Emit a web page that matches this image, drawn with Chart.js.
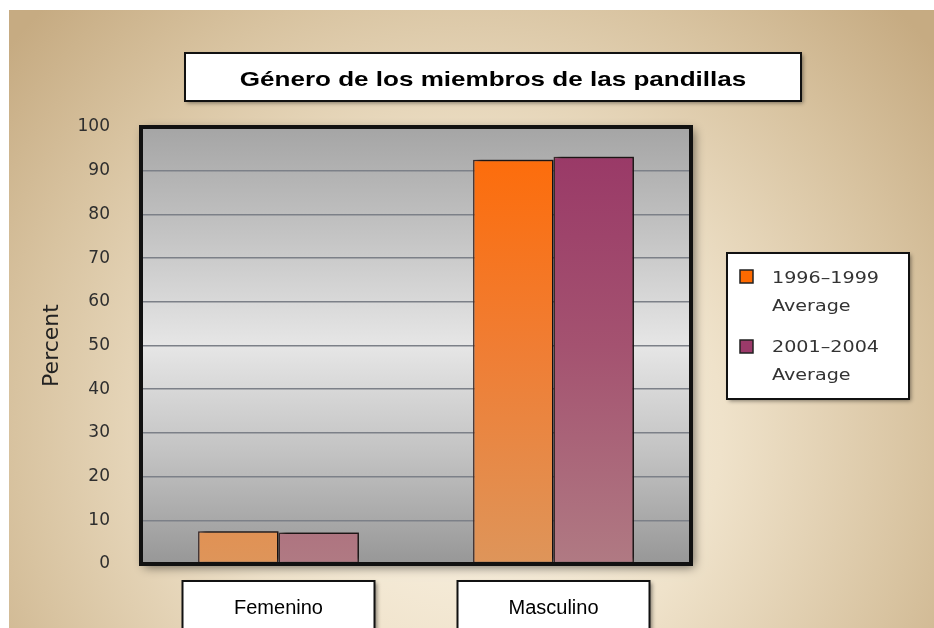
<!DOCTYPE html>
<html>
<head>
<meta charset="utf-8">
<script src="https://cdn.jsdelivr.net/npm/chart.js@4"></script>
<style>
  html, body { margin: 0; padding: 0; background: #ffffff; }
  #wrap { width: 934px; height: 628px; position: relative; }
  canvas { display: block; }
</style>
</head>
<body>
<div id="wrap"><canvas id="c" width="934" height="628"></canvas></div>
<script>
// ---- data ----
const categories = ['Femenino', 'Masculino'];
const seriesLabels = ['1996–1999 Average', '2001–2004 Average'];
const legendLines = [['1996–1999', 'Average'], ['2001–2004', 'Average']];
const values1996to1999 = [7.5, 92.5];
const values2001to2004 = [7.2, 93.2];
const yMin = 0;
const yMax = 100;
const yStep = 10;
const chartTitle = 'Género de los miembros de las pandillas';
const yAxisTitle = 'Percent';

// ---- styles ----
const swatch = ['#ff6a00', '#9c3a6a'];
const gradStops = [
  ['#ff6a05', '#f07d33', '#de955a'],
  ['#983666', '#a45270', '#b07a83']
];

function barGradient(i) {
  return function (c) {
    const chart = c.chart;
    const a = chart.chartArea;
    if (!a) return swatch[i];
    const g = chart.ctx.createLinearGradient(0, a.top, 0, a.bottom);
    g.addColorStop(0, gradStops[i][0]);
    g.addColorStop(0.5, gradStops[i][1]);
    g.addColorStop(1, gradStops[i][2]);
    return g;
  };
}

function boxWithShadow(ctx, x, y, w, h, lw) {
  ctx.save();
  ctx.shadowColor = 'rgba(0,0,0,0.45)';
  ctx.shadowBlur = 4;
  ctx.shadowOffsetX = 2;
  ctx.shadowOffsetY = 2;
  ctx.fillStyle = '#ffffff';
  ctx.fillRect(x, y, w, h);
  ctx.restore();
  ctx.save();
  ctx.lineWidth = lw;
  ctx.strokeStyle = '#111111';
  ctx.strokeRect(x, y, w, h);
  ctx.restore();
}

const decor = {
  id: 'decor',
  beforeDraw(chart) {
    const ctx = chart.ctx;
    const a = chart.chartArea;
    const W = chart.width, H = chart.height;
    // page background
    ctx.save();
    ctx.fillStyle = '#ffffff';
    ctx.fillRect(0, 0, W, H);
    const rg = ctx.createRadialGradient(470, 430, 20, 470, 430, 600);
    rg.addColorStop(0, '#fbf4e6');
    rg.addColorStop(0.4, '#efe2ca');
    rg.addColorStop(0.75, '#d8c3a0');
    rg.addColorStop(1, '#c6ab82');
    ctx.fillStyle = rg;
    ctx.fillRect(9, 10, W - 9, H - 10);
    ctx.restore();

    // plot background with soft shadow
    ctx.save();
    ctx.shadowColor = 'rgba(0,0,0,0.55)';
    ctx.shadowBlur = 10;
    ctx.shadowOffsetX = 3;
    ctx.shadowOffsetY = 3;
    const pg = ctx.createLinearGradient(0, a.top, 0, a.bottom);
    pg.addColorStop(0, '#a5a5a5');
    pg.addColorStop(0.25, '#c4c4c4');
    pg.addColorStop(0.5, '#e6e6e6');
    pg.addColorStop(0.75, '#c2c2c2');
    pg.addColorStop(1, '#979797');
    ctx.fillStyle = pg;
    ctx.fillRect(a.left, a.top, a.right - a.left, a.bottom - a.top);
    ctx.restore();

    // title box + text
    boxWithShadow(ctx, 185, 53, 616, 48, 2);
    ctx.save();
    ctx.translate(493, 86);
    ctx.scale(1.24, 1);
    ctx.font = 'bold 21px "Liberation Sans", Arial, sans-serif';
    ctx.fillStyle = '#000000';
    ctx.textAlign = 'center';
    ctx.textBaseline = 'alphabetic';
    ctx.fillText(chartTitle, 0, 0);
    ctx.restore();

    // legend box
    boxWithShadow(ctx, 727, 253, 182, 146, 2);
    chart.data.datasets.forEach((ds, i) => {
      const sy = 270 + i * 70;
      ctx.save();
      ctx.fillStyle = swatch[i];
      ctx.fillRect(740, sy, 13, 13);
      ctx.lineWidth = 1.5;
      ctx.strokeStyle = '#222';
      ctx.strokeRect(740, sy, 13, 13);
      ctx.fillStyle = '#333333';
      ctx.font = '16.5px "DejaVu Sans", Verdana, sans-serif';
      ctx.textAlign = 'left';
      ctx.textBaseline = 'alphabetic';
      legendLines[i].forEach((line, j) => {
        ctx.save();
        ctx.translate(772, 283 + i * 69 + j * 28);
        ctx.scale(1.16, 1);
        ctx.fillText(line, 0, 0);
        ctx.restore();
      });
      ctx.restore();
    });

    // category label boxes
    const xs = chart.scales.x;
    categories.forEach((c, i) => {
      const px = xs.getPixelForTick(i);
      boxWithShadow(ctx, px - 96, 581, 192, 60, 2);
    });
  },
  beforeDatasetsDraw(chart) {
    const ctx = chart.ctx;
    ctx.save();
    ctx.shadowColor = 'rgba(0,0,0,0.65)';
    ctx.shadowBlur = 4;
    ctx.shadowOffsetX = 4;
    ctx.shadowOffsetY = -2;
  },
  afterDatasetsDraw(chart) {
    const ctx = chart.ctx;
    ctx.restore();
    const a = chart.chartArea;
    ctx.save();
    ctx.lineWidth = 4;
    ctx.strokeStyle = '#111111';
    ctx.strokeRect(a.left, a.top, a.right - a.left, a.bottom - a.top);
    ctx.restore();
  }
};

new Chart(document.getElementById('c'), {
  type: 'bar',
  data: {
    labels: categories,
    datasets: [
      {
        label: seriesLabels[0],
        data: values1996to1999,
        backgroundColor: barGradient(0),
        borderColor: '#3a2a2a',
        borderWidth: 1.5,
        borderSkipped: false
      },
      {
        label: seriesLabels[1],
        data: values2001to2004,
        backgroundColor: barGradient(1),
        borderColor: '#3a2a2a',
        borderWidth: 1.5,
        borderSkipped: false
      }
    ]
  },
  options: {
    responsive: false,
    animation: false,
    devicePixelRatio: 1,
    layout: { padding: { top: 127, right: 243, bottom: 0, left: 0 } },
    datasets: { bar: { categoryPercentage: 0.585, barPercentage: 1.0 } },
    plugins: {
      legend: { display: false },
      title: { display: false },
      tooltip: { enabled: false }
    },
    scales: {
      x: {
        grid: { display: false, drawTicks: false },
        border: { display: false },
        ticks: {
          color: '#000000',
          padding: 32,
          font: { family: '"Liberation Sans", Arial, sans-serif', size: 20 }
        },
        afterFit(s) { s.height = 64; }
      },
      y: {
        min: yMin,
        max: yMax,
        ticks: {
          stepSize: yStep,
          color: '#2e2e2e',
          padding: 31,
          font: { family: '"DejaVu Sans", Verdana, sans-serif', size: 17 }
        },
        grid: { color: '#7c8088', lineWidth: 1.5, drawTicks: false },
        border: { display: false },
        title: {
          display: true,
          text: yAxisTitle,
          color: '#222222',
          padding: { top: 39, bottom: 0 },
          font: { family: '"DejaVu Sans", Verdana, sans-serif', size: 22 }
        },
        afterFit(s) { s.width = 141; }
      }
    }
  },
  plugins: [decor]
});
</script>
</body>
</html>
